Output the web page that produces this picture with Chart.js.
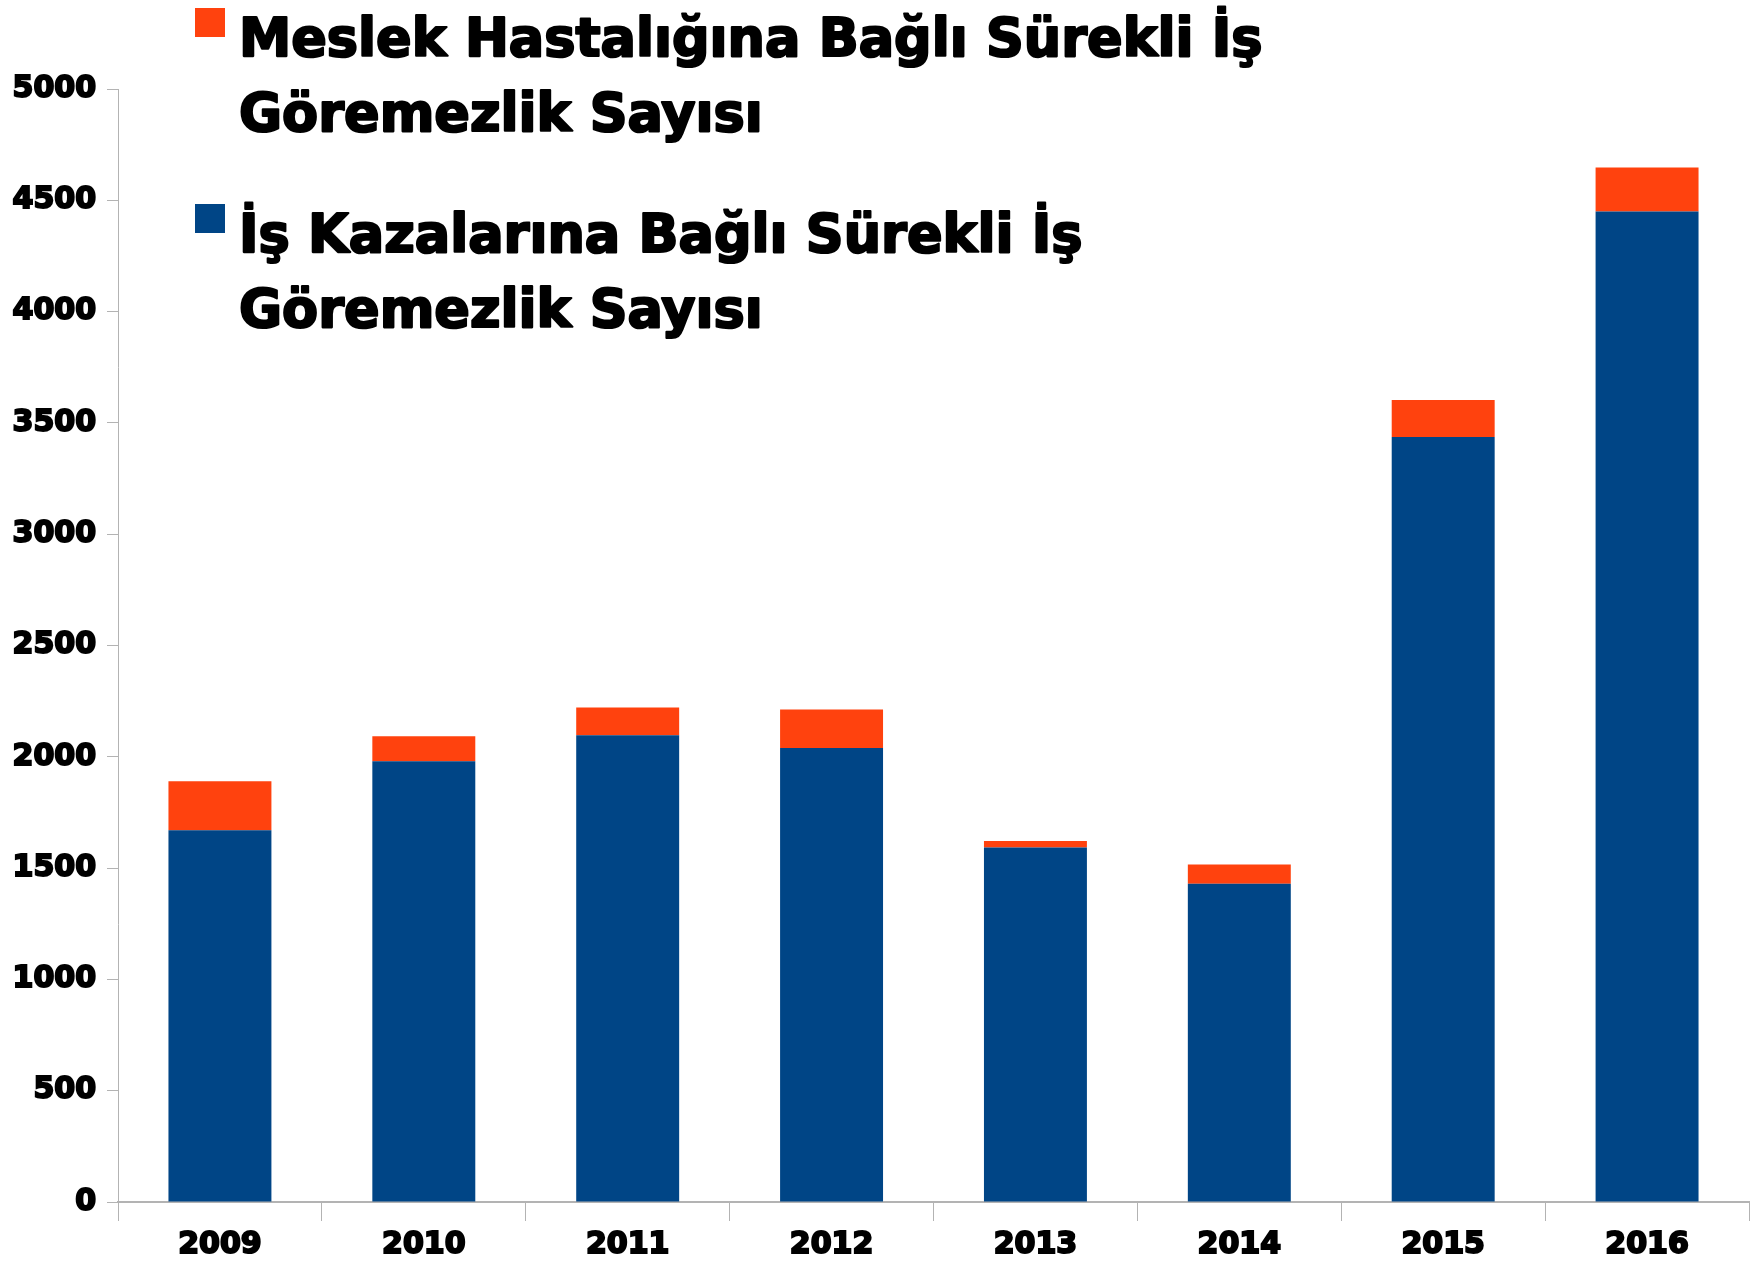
<!DOCTYPE html>
<html>
<head>
<meta charset="utf-8">
<script src="https://cdn.jsdelivr.net/npm/chart.js@4.4.1/dist/chart.umd.min.js"></script>
<style>
html, body { margin: 0; padding: 0; background: #fff; }
</style>
</head>
<body>
<canvas id="myChart" width="1760" height="1264"></canvas>
<script>
const years = ['2009', '2010', '2011', '2012', '2013', '2014', '2015', '2016'];
const accidentValues = [1670, 1980, 2097, 2040, 1592, 1430, 3437, 4450];
const diseaseValues = [220, 112, 125, 173, 30, 86, 166, 197];
const yTicks = [0, 500, 1000, 1500, 2000, 2500, 3000, 3500, 4000, 4500, 5000];
const accidentLabel = ['İş Kazalarına Bağlı Sürekli İş', 'Göremezlik Sayısı'];
const diseaseLabel = ['Meslek Hastalığına Bağlı Sürekli İş', 'Göremezlik Sayısı'];

const tickFont = { family: 'DejaVu Sans', weight: 'bold', size: 30 };

// legend drawn by hand: two-line labels, sitting over the plot
const sideLegend = {
    id: 'sideLegend',
    afterDraw(chart) {
        const ctx = chart.ctx;
        const left = chart.chartArea.left + 77;
        const items = chart.data.datasets.slice().reverse();
        ctx.save();
        ctx.font = 'bold 52.5px "DejaVu Sans"';
        ctx.textBaseline = 'alphabetic';
        ctx.lineWidth = 2.2;
        ctx.lineJoin = 'round';
        ctx.strokeStyle = '#000';
        items.forEach((ds, i) => {
            const top = 8 + i * 196;
            ctx.fillStyle = ds.backgroundColor;
            ctx.fillRect(left, top, 30, 29);
            ctx.fillStyle = '#000';
            ds.label.forEach((line, j) => {
                const y = top + 48 + j * 75;
                ctx.strokeText(line, left + 44, y);
                ctx.fillText(line, left + 44, y);
            });
        });
        ctx.restore();
    }
};

const ctx = document.getElementById('myChart').getContext('2d');
let myChart = new Chart(ctx, {
    type: 'bar',
    data: {
        labels: years,
        datasets: [{
            label: accidentLabel,
            data: accidentValues,
            backgroundColor: '#004586',
            barPercentage: 0.505,
            categoryPercentage: 1
        }, {
            label: diseaseLabel,
            data: diseaseValues,
            backgroundColor: '#ff420e',
            barPercentage: 0.505,
            categoryPercentage: 1
        }]
    },
    options: {
        responsive: false,
        animation: false,
        layout: { padding: { top: 89, right: 11, left: 0, bottom: 0 } },
        plugins: {
            legend: { display: false },
            tooltip: { enabled: false }
        },
        scales: {
            x: {
                stacked: true,
                ticks: { color: '#000', font: tickFont, padding: 6, textStrokeColor: '#000', textStrokeWidth: 2 },
                grid: { drawOnChartArea: false, tickLength: 19, color: '#b3b3b3', offset: true },
                border: { color: '#b3b3b3', width: 2 },
                afterFit(s) { s.height = 62; }
            },
            y: {
                stacked: true,
                min: 0,
                max: 5000,
                afterBuildTicks(s) { s.ticks = yTicks.map(v => ({ value: v })); },
                ticks: {
                    color: '#000', font: tickFont, padding: 11,
                    textStrokeColor: '#000', textStrokeWidth: 2,
                    callback: v => String(v)
                },
                grid: { drawOnChartArea: false, tickLength: 11, color: '#b3b3b3' },
                border: { color: '#b3b3b3', width: 1 },
                afterFit(s) { s.width = 118; }
            }
        }
    },
    plugins: [sideLegend]
});
</script>
</body>
</html>
